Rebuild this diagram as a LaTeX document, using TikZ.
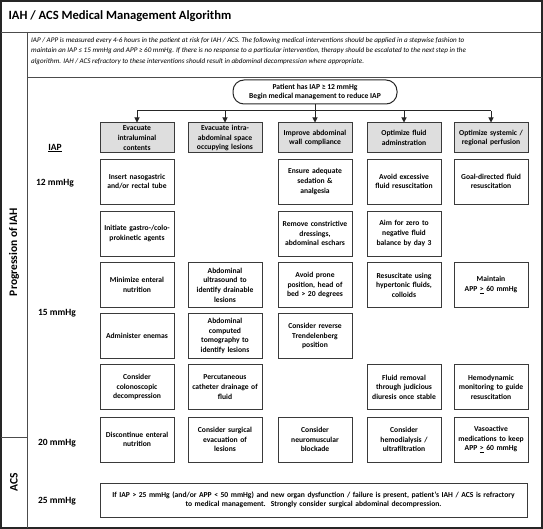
\documentclass[tikz,border=0pt]{standalone}
\usepackage{fontspec}
\setmainfont{Carlito}
\usetikzlibrary{arrows.meta,positioning}
\definecolor{boxline}{HTML}{3A3A3A}
\definecolor{headfill}{HTML}{DEDEDE}
\tikzset{
  frame/.style={line width=1.4pt, draw=black!85},
  rule/.style={line width=0.7pt, draw=black!70},
  cell/.style={draw=boxline, line width=0.8pt, minimum width=74pt, minimum height=45pt,
    text width=72pt, align=center, inner sep=1pt,
    font=\fontsize{7.6}{9.6}\selectfont\bfseries},
  headcell/.style={cell, minimum height=30pt, fill=headfill, line width=1pt},
  lvl/.style={font=\fontsize{9.5}{11}\selectfont\bfseries},
  side/.style={rotate=90, font=\fontsize{11.5}{13}\selectfont\bfseries},
  conn/.style={line width=1pt, draw=black!85},
  arr/.style={conn, -{Triangle[length=5pt,width=5pt]}},
}
\begin{document}
\begin{tikzpicture}[x=1pt,y=-1pt]
\useasboundingbox (0,0) rectangle (543,529);
% frame and rules
\draw[frame] (1,1) rectangle (542,528);
\draw[rule] (1,32) -- (542,32);
\draw[rule] (27,32) -- (27,528);
\draw[rule] (27,77) -- (542,77);
\draw[rule] (1,437) -- (27,437);
% title and intro
\node[anchor=west, font=\fontsize{12.6}{15}\selectfont\bfseries] (title) at (5,16) {IAH / ACS Medical Management Algorithm};
\node[anchor=north west, align=left, inner sep=0pt, font=\fontsize{7.1}{10.3}\selectfont\itshape] (intro) at (31,37.5)
 {IAP / APP is measured every 4-6 hours in the patient at risk for IAH / ACS. The following medical interventions should be applied in a stepwise fashion to\\
  maintain an IAP ≤ 15 mmHg and APP ≥ 60 mmHg. If there is no response to a particular intervention, therapy should be escalated to the next step in the\\
  algorithm. IAH / ACS refractory to these interventions should result in abdominal decompression where appropriate.};
% side labels
\node[side] (prog) at (14,252) {Progression of IAH};
\node[side] (acs) at (14,482) {ACS};
% level labels
\node[lvl] (iap) at (55,148) {\underline{IAP}};
\node[lvl] (l12) at (55,183) {12 mmHg};
\node[lvl] (l15) at (57,313) {15 mmHg};
\node[lvl] (l20) at (57,443) {20 mmHg};
\node[lvl] (l25) at (57,501) {25 mmHg};
% start node
\node[draw=black!85, line width=1pt, rounded corners=11pt, minimum width=164pt, minimum height=24pt, align=center, inner sep=1pt,
  font=\fontsize{7.6}{9.6}\selectfont\bfseries] (start) at (315,92) {Patient has IAP ≥ 12 mmHg\\Begin medical management to reduce IAP};
% headers
\node[headcell] (h1) at (137,138) {Evacuate\\intraluminal\\contents};
\node[headcell] (h2) at (225,138) {Evacuate intra-\\abdominal space\\occupying lesions};
\node[headcell] (h3) at (315,138) {Improve abdominal\\wall compliance};
\node[headcell] (h4) at (404,138) {Optimize fluid\\adminstration};
\node[headcell] (h5) at (491,138) {Optimize systemic /\\regional perfusion};
% connectors
\coordinate (bus) at (315,111);
\draw[conn] (h1 |- bus) -- (h5 |- bus);
\draw[arr] (start) -- (h3);
\draw[arr] (h1 |- bus) -- (h1);
\draw[arr] (h2 |- bus) -- (h2);
\draw[arr] (h4 |- bus) -- (h4);
\draw[arr] (h5 |- bus) -- (h5);
% column 1
\node[cell] (a1) at (137,181.5) {Insert nasogastric\\and/or rectal tube};
\node[cell] (a2) at (137,233.5) {Initiate gastro-/colo-\\prokinetic agents};
\node[cell] (a3) at (137,285) {Minimize enteral\\nutrition};
\node[cell] (a4) at (137,336) {Administer enemas};
\node[cell] (a5) at (137,387) {Consider\\colonoscopic\\decompression};
\node[cell] (a6) at (137,439.5) {Discontinue enteral\\nutrition};
% column 2
\node[cell] (b3) at (225,285) {Abdominal\\ultrasound to\\identify drainable\\lesions};
\node[cell] (b4) at (225,336) {Abdominal\\computed\\tomography to\\identify lesions};
\node[cell] (b5) at (225,387) {Percutaneous\\catheter drainage of\\fluid};
\node[cell] (b6) at (225,439.5) {Consider surgical\\evacuation of\\lesions};
% column 3
\node[cell] (c1) at (315,181.5) {Ensure adequate\\sedation \&\\analgesia};
\node[cell] (c2) at (315,233.5) {Remove constrictive\\dressings,\\abdominal eschars};
\node[cell] (c3) at (315,285) {Avoid prone\\position, head of\\bed > 20 degrees};
\node[cell] (c4) at (315,336) {Consider reverse\\Trendelenberg\\position};
\node[cell] (c6) at (315,439.5) {Consider\\neuromuscular\\blockade};
% column 4
\node[cell] (d1) at (404,181.5) {Avoid excessive\\fluid resuscitation};
\node[cell] (d2) at (404,233.5) {Aim for zero to\\negative fluid\\balance by day 3};
\node[cell] (d3) at (404,285) {Resuscitate using\\hypertonic fluids,\\colloids};
\node[cell] (d5) at (404,387) {Fluid removal\\through judicious\\diuresis once stable};
\node[cell] (d6) at (404,439.5) {Consider\\hemodialysis /\\ultrafiltration};
% column 5
\node[cell] (e1) at (491,181.5) {Goal-directed fluid\\resuscitation};
\node[cell] (e3) at (491,285) {Maintain\\APP \underline{>} 60 mmHg};
\node[cell] (e5) at (491,387) {Hemodynamic\\monitoring to guide\\resuscitation};
\node[cell] (e6) at (491,439.5) {Vasoactive\\medications to keep\\APP \underline{>} 60 mmHg};
% bottom
\node[cell, minimum width=427pt, text width=420pt, minimum height=34pt] (final) at (313.5,500)
 {If IAP > 25 mmHg (and/or APP < 50 mmHg) and new organ dysfunction / failure is present, patient’s IAH / ACS is refractory\\to medical management.\ \ Strongly consider surgical abdominal decompression.};
\end{tikzpicture}
\end{document}
